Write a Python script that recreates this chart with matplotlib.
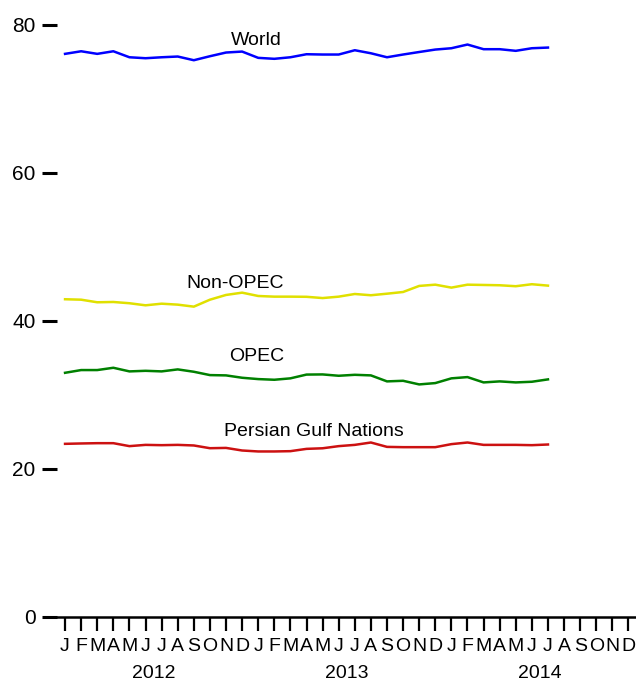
import matplotlib
matplotlib.use("Agg")
from matplotlib import pyplot as plt
from matplotlib import transforms

# Monthly values, Jan 2012 .. Jul 2014
world = [76.1, 76.45, 76.1, 76.45, 75.64, 75.51, 75.64, 75.74, 75.24, 75.78, 76.28, 76.41,
         75.56, 75.43, 75.64, 76.05, 76.01, 76.01, 76.59, 76.18, 75.64, 76.01, 76.35, 76.68,
         76.86, 77.36, 76.73, 76.73, 76.51, 76.86, 76.95]
non_opec = [42.94, 42.88, 42.53, 42.57, 42.40, 42.12, 42.34, 42.21, 41.94, 42.88, 43.52, 43.83,
            43.38, 43.29, 43.29, 43.27, 43.1, 43.29, 43.65, 43.48, 43.69, 43.92, 44.74, 44.91,
            44.51, 44.91, 44.87, 44.83, 44.70, 44.97, 44.78]
opec = [33.00, 33.37, 33.37, 33.68, 33.19, 33.27, 33.19, 33.46, 33.14, 32.69, 32.65, 32.33,
        32.15, 32.06, 32.25, 32.76, 32.78, 32.60, 32.73, 32.65, 31.84, 31.92, 31.43, 31.61,
        32.25, 32.42, 31.70, 31.84, 31.70, 31.79, 32.11]
persian_gulf = [23.40, 23.45, 23.49, 23.49, 23.09, 23.26, 23.22, 23.26, 23.18, 22.81, 22.85, 22.50,
                22.37, 22.37, 22.41, 22.72, 22.8, 23.09, 23.26, 23.58, 22.99, 22.95, 22.95, 22.95,
                23.36, 23.58, 23.26, 23.26, 23.26, 23.22, 23.31]

month_letters = ["J", "F", "M", "A", "M", "J", "J", "A", "S", "O", "N", "D"]
years = ["2012", "2013", "2014"]
y_ticks = [0, 20, 40, 60, 80]

plt.rcParams['font.family'] = ['Liberation Sans', 'DejaVu Sans']
FS = 14

fig = plt.figure(figsize=(6.36, 6.81), dpi=100)
ax = fig.add_axes([57 / 636, 1 - 617 / 681, (636.5 - 57) / 636, (617 - 25) / 681])

x = list(range(len(world)))
series = [
    (world, "#0000ff", "World", 11.86, 77.9),
    (non_opec, "#e0e000", "Non-OPEC", 10.56, 45.0),
    (opec, "#008000", "OPEC", 11.93, 35.26),
    (persian_gulf, "#cc1111", "Persian Gulf Nations", 15.47, 25.1),
]
for vals, col, name, tx, ty in series:
    ax.plot(x, vals, color=col, lw=1.8, solid_joinstyle='round')
    ax.text(tx, ty, name, ha='center', va='center', fontsize=FS)

ax.set_xlim(-0.5, 35.5)
ax.set_ylim(0, 80)

n_months = len(years) * 12
ax.set_xticks(range(n_months))
ax.set_xticklabels(month_letters * len(years), fontsize=FS)
ax.set_yticks(y_ticks)
ax.set_yticklabels([str(v) for v in y_ticks], fontsize=15)

ax.tick_params(axis='x', direction='out', length=10, width=1.6, pad=5)
ax.tick_params(axis='y', direction='out', length=10.5, width=2.2, pad=5)

for s in ['top', 'right', 'left']:
    ax.spines[s].set_visible(False)
ax.spines['bottom'].set_linewidth(1.8)

trans = transforms.blended_transform_factory(ax.transData, ax.transAxes)
for k, yr in enumerate(years):
    ax.text(k * 12 + 5.5, -57 / 592, yr, transform=trans, ha='center', va='center', fontsize=FS)

fig.savefig("out.png", dpi=100)
